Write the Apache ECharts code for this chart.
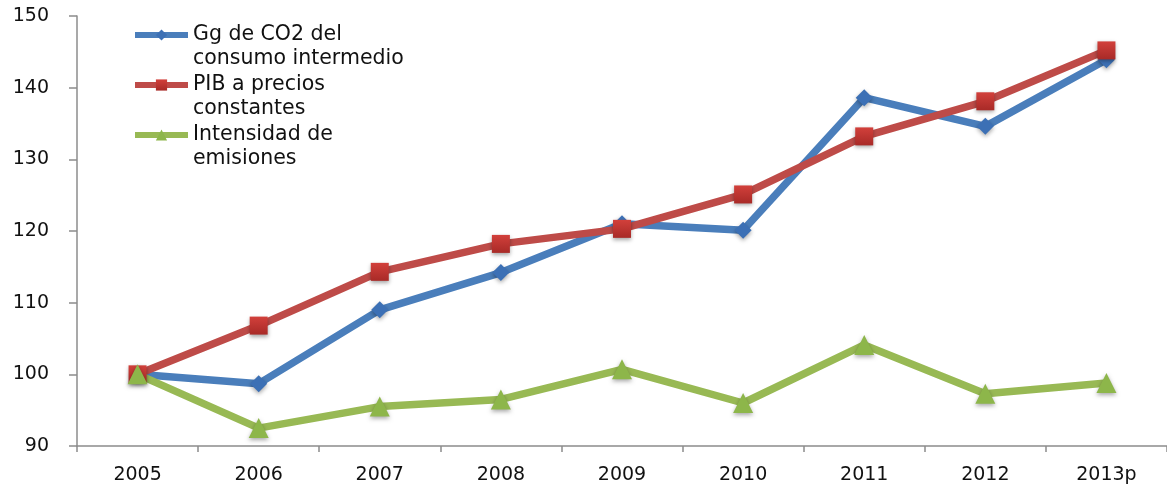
<!DOCTYPE html>
<html>
<head>
<meta charset="utf-8">
<script src="https://cdn.jsdelivr.net/npm/echarts@6/dist/echarts.min.js"></script>
<style>
  html, body { margin: 0; padding: 0; background: #fff; }
  #chart { width: 1167px; height: 489px; }
</style>
</head>
<body>
<div id="chart"></div>
<script>
// Years on the horizontal axis (2013 is preliminary)
const years = ['2005', '2006', '2007', '2008', '2009', '2010', '2011', '2012', '2013p'];

// Index values, 2005 = 100
const co2Consumo = [100, 98.7, 109.0, 114.2, 121.0, 120.1, 138.6, 134.6, 143.9];
const pibConstantes = [100, 106.8, 114.3, 118.2, 120.3, 125.1, 133.2, 138.1, 145.2];
const intensidad = [100, 92.5, 95.5, 96.5, 100.7, 96.0, 104.1, 97.3, 98.8];

const seriesNames = [
  'Gg de CO2 del\nconsumo intermedio',
  'PIB a precios\nconstantes',
  'Intensidad de\nemisiones'
];

const FONT = '"DejaVu Sans", "Open Sans", sans-serif';
const TEXT_COLOR = '#111111';
const markerShadow = {
  shadowBlur: 4,
  shadowColor: 'rgba(0,0,0,0.35)',
  shadowOffsetY: 2
};

const chart = echarts.init(document.getElementById('chart'), null, { renderer: 'canvas' });

chart.setOption({
  animation: false,
  backgroundColor: '#ffffff',
  grid: { left: 77, right: 0, top: 16, bottom: 43, containLabel: false },
  legend: {
    orient: 'vertical',
    left: 132,
    top: -1,
    padding: 0,
    itemWidth: 53,
    itemHeight: 14,
    itemGap: -22,
    lineStyle: { width: 6 },
    // a leading blank line keeps the icon level with the first text line
    formatter: name => '\n' + name,
    textStyle: {
      fontFamily: FONT,
      fontSize: 20.5,
      color: TEXT_COLOR,
      lineHeight: 24
    },
    data: seriesNames
  },
  xAxis: {
    type: 'category',
    data: years,
    boundaryGap: true,
    axisLine: { lineStyle: { color: '#8c8c8c', width: 1.5 } },
    axisTick: { show: true, length: 6, lineStyle: { color: '#8c8c8c', width: 1.5 } },
    axisLabel: {
      margin: 20,
      fontFamily: FONT,
      fontSize: 19,
      color: TEXT_COLOR
    },
    splitLine: { show: false }
  },
  yAxis: {
    type: 'value',
    min: 90,
    max: 150,
    interval: 10,
    axisLine: { show: true, lineStyle: { color: '#8c8c8c', width: 1.5 } },
    axisTick: { show: true, length: 8, lineStyle: { color: '#8c8c8c', width: 1.5 } },
    axisLabel: {
      margin: 28,
      fontFamily: FONT,
      fontSize: 19,
      color: TEXT_COLOR
    },
    splitLine: { show: false }
  },
  series: [
    {
      name: seriesNames[0],
      type: 'line',
      data: co2Consumo,
      symbol: 'diamond',
      symbolSize: 17,
      lineStyle: { color: '#4A7EBB', width: 7.5 },
      itemStyle: Object.assign({ color: '#3C70B5' }, markerShadow)
    },
    {
      name: seriesNames[1],
      type: 'line',
      data: pibConstantes,
      symbol: 'rect',
      symbolSize: 18,
      lineStyle: { color: '#BE4B48', width: 7.5 },
      itemStyle: Object.assign({
        color: new echarts.graphic.LinearGradient(0, 0, 0, 1, [
          { offset: 0, color: '#D2403B' },
          { offset: 1, color: '#A82A27' }
        ])
      }, markerShadow)
    },
    {
      name: seriesNames[2],
      type: 'line',
      data: intensidad,
      symbol: 'triangle',
      symbolSize: 20,
      lineStyle: { color: '#98B954', width: 7.5 },
      itemStyle: Object.assign({ color: '#8DB64A' }, markerShadow)
    }
  ]
});
</script>
</body>
</html>
